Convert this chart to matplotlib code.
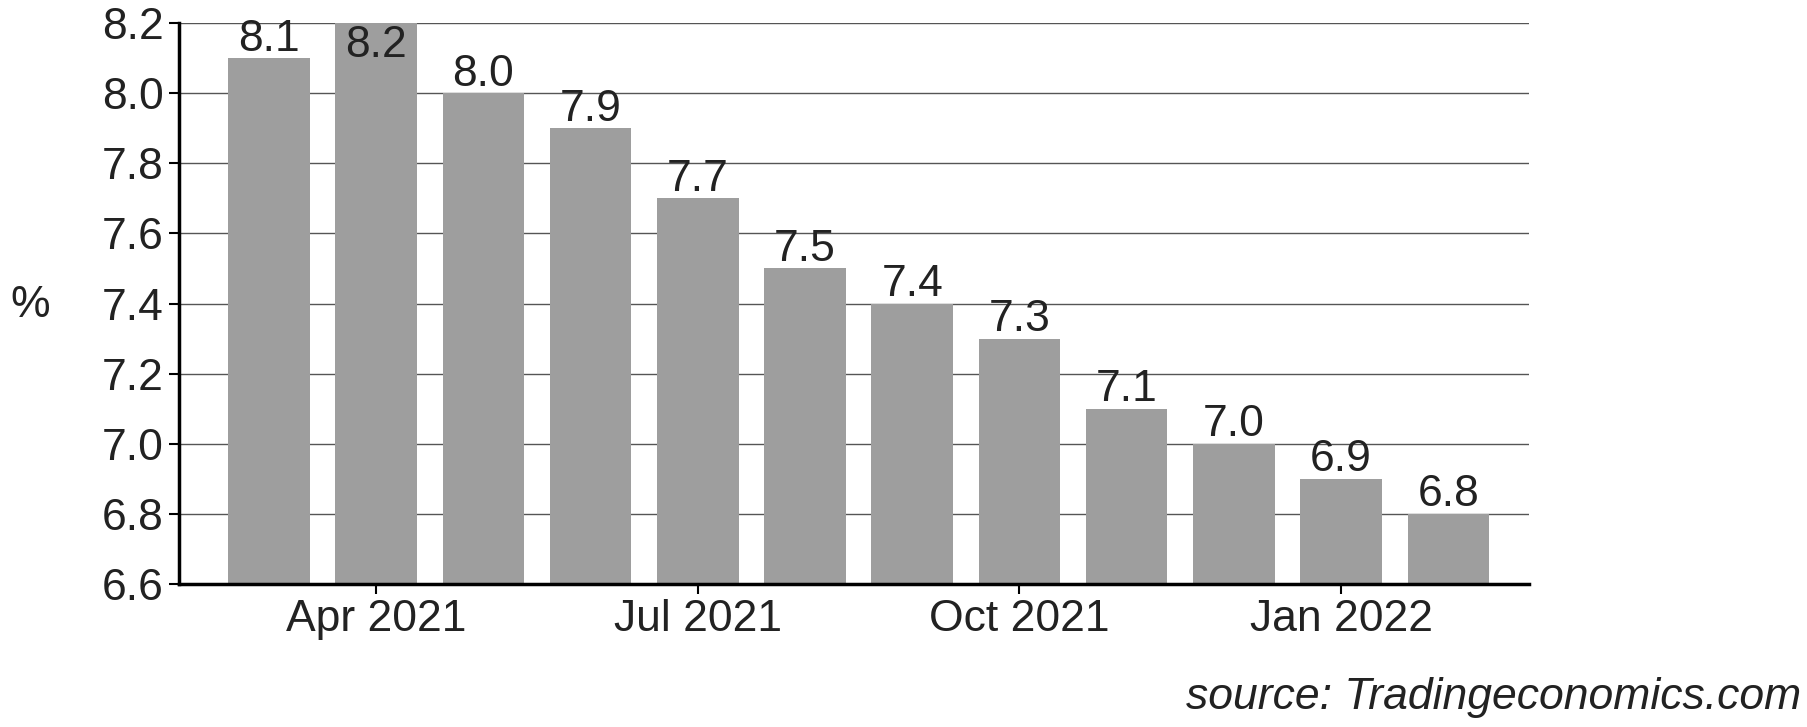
import matplotlib
matplotlib.use("Agg")
import matplotlib.pyplot as plt

months = ["Mar 2021","Apr 2021","May 2021","Jun 2021","Jul 2021","Aug 2021","Sep 2021",
          "Oct 2021","Nov 2021","Dec 2021","Jan 2022","Feb 2022"]
values = [8.1, 8.2, 8.0, 7.9, 7.7, 7.5, 7.4, 7.3, 7.1, 7.0, 6.9, 6.8]
tick_idx = [1, 4, 7, 10]
yticks = [6.6, 6.8, 7.0, 7.2, 7.4, 7.6, 7.8, 8.0, 8.2]

FS = 32
plt.rcParams['font.family'] = ['Liberation Sans', 'DejaVu Sans']
fig = plt.figure(figsize=(18.07, 7.27), dpi=100)
ax = fig.add_axes([0.099, 0.197, 0.747, 0.771])
x = list(range(len(values)))
ax.bar(x, values, width=0.76, color='#9e9e9e', zorder=2)
for xi, v in zip(x, values):
    if v >= 8.15:
        ax.text(xi, v - 0.005, f"{v:.1f}", ha='center', va='top', fontsize=FS, color='#222222', zorder=3)
    else:
        ax.text(xi, v - 0.005, f"{v:.1f}", ha='center', va='bottom', fontsize=FS, color='#222222', zorder=3)
ax.set_ylim(6.6, 8.2)
ax.set_xlim(-0.84, 11.75)
ax.set_yticks(yticks)
ax.set_yticklabels([f"{t:.1f}" for t in yticks], fontsize=FS, color='#222222')
ax.set_xticks(tick_idx)
ax.set_xticklabels([months[i] for i in tick_idx], fontsize=FS, color='#222222')
ax.yaxis.grid(True, color='#555555', linewidth=1, zorder=0)
for s in ['top', 'right']:
    ax.spines[s].set_visible(False)
for s in ['left', 'bottom']:
    ax.spines[s].set_linewidth(2.5)
ax.tick_params(axis='both', length=7, width=1.5, pad=4)
fig.text(0.006, 0.58, "%", fontsize=FS, color='#222222', ha='left', va='center')
fig.text(0.997, 0.04, "source: Tradingeconomics.com", fontsize=FS, style='italic',
         color='#222222', ha='right', va='center')
fig.savefig("out.png", dpi=100)
